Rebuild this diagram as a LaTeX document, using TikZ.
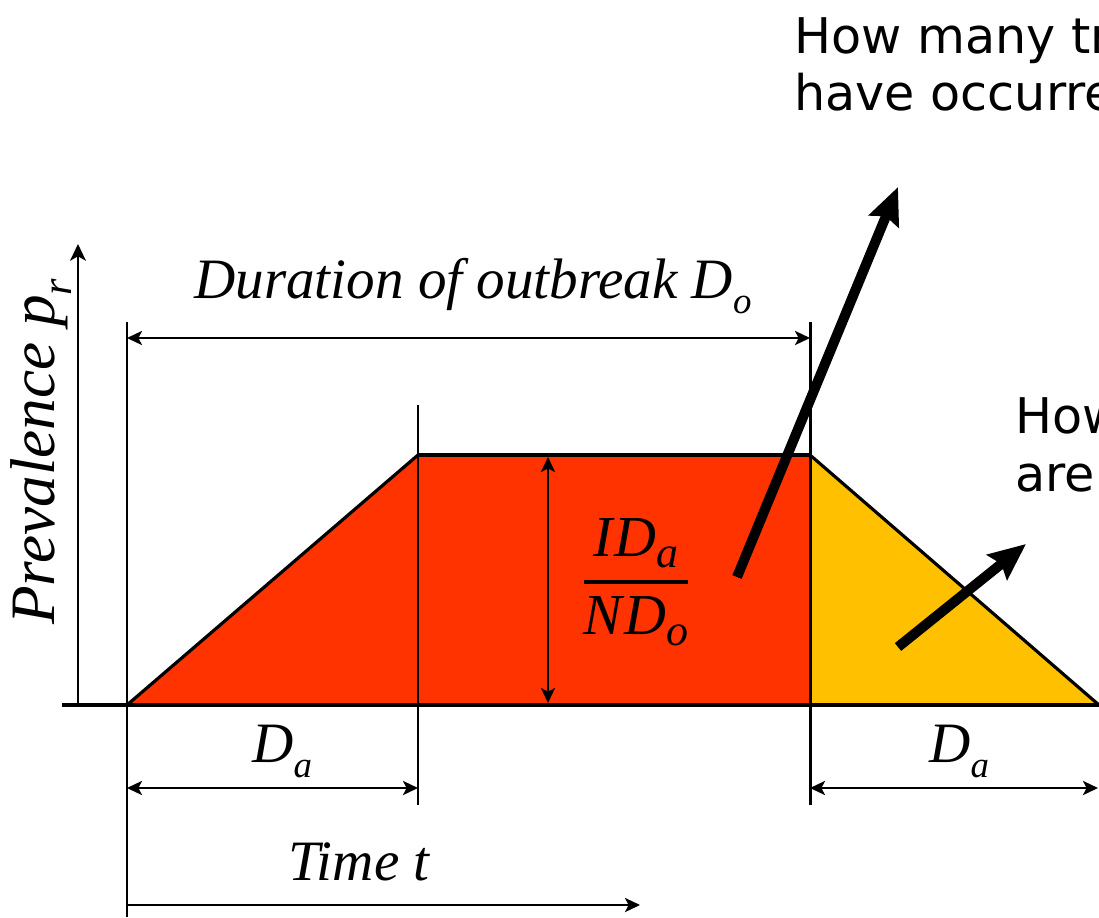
\documentclass[tikz,border=0pt]{standalone}
\usepackage{fontspec}
\setmainfont{Liberation Serif}
\newfontfamily\hsans{DejaVu Sans}
\usetikzlibrary{arrows.meta}
\definecolor{outred}{HTML}{FF3300}
\definecolor{outyellow}{HTML}{FFC000}
\newcommand\tsub[1]{\raisebox{-9pt}{\fontsize{21}{21}\selectfont #1}}
\newcommand\fsub[1]{\raisebox{-6.5pt}{\fontsize{25}{25}\selectfont #1}}
\begin{document}
\begin{tikzpicture}[x=0.02cm,y=-0.02cm,
  serif/.style={font=\fontsize{32.5}{38}\selectfont\itshape, inner sep=0pt},
  sanslabel/.style={font=\hsans\fontsize{28}{32}\selectfont, inner sep=0pt, anchor=base west},
  dimarrow/.style={line width=1.4pt, {Stealth[length=8.5pt,width=8pt,inset=2pt]}-{Stealth[length=8.5pt,width=8pt,inset=2pt]}},
  onearrow/.style={line width=1.4pt, -{Stealth[length=8.5pt,width=8pt,inset=2pt]}},
  guide/.style={line width=1.7pt},
  bigarrow/.style={line width=5.7pt, -{Stealth[length=21pt,width=18pt,inset=3pt]}},
]
\useasboundingbox (0,0) rectangle (1099,917);
\clip (0,0) rectangle (1099,917);

% key points
\coordinate (O) at (127,705);
\coordinate (A) at (418,455);
\coordinate (B) at (810,455);
\coordinate (Bb) at (810,705);
\coordinate (E) at (1099,705);

% fills
\fill[outred] (O) -- (A) -- (B) -- (Bb) -- cycle;
\fill[outyellow] (B) -- (E) -- (Bb) -- cycle;

% outline
\draw[line width=1.8pt] (O) -- (A);
\draw[line width=2.8pt] (A) -- (B);
\draw[line width=1.8pt] (B) -- (E);

% guide lines
\coordinate (g1t) at (127,322); \coordinate (g1b) at (127,917);
\coordinate (g2t) at (418,405); \coordinate (g2b) at (418,805);
\coordinate (g3t) at (810,322); \coordinate (g3b) at (810,805);
\draw[guide] (g1t) -- (g1b);
\draw[guide] (g2t) -- (g2b);
\draw[guide] (g3t) -- (g3b);

% axes
\coordinate (xl) at (62,705); \coordinate (xr) at (1099,705);
\draw[line width=2.8pt] (xl) -- (xr);
\coordinate (yb) at (78,705); \coordinate (yt) at (78,244);
\draw[line width=1.2pt, -{Stealth[length=9.5pt,width=9pt,inset=2.5pt]}] (yb) -- (yt);

% dimension arrows
\coordinate (d1l) at (127,338); \coordinate (d1r) at (810,338);
\draw[dimarrow] (d1l) -- (d1r);
\coordinate (hv1) at (548,457); \coordinate (hv2) at (548,703);
\draw[dimarrow] (hv1) -- (hv2);
\coordinate (da1l) at (127,788); \coordinate (da1r) at (418,788);
\draw[dimarrow] (da1l) -- (da1r);
\coordinate (da2l) at (810,788); \coordinate (da2r) at (1098,788);
\draw[dimarrow] (da2l) -- (da2r);
\coordinate (tl) at (127,905); \coordinate (tr) at (640,905);
\draw[onearrow] (tl) -- (tr);

% labels
\node[serif, anchor=base west] (dur) at (194,298) {Duration of outbreak D\tsub{o}};
\node[serif, anchor=base west] (tim) at (288,880) {Time t};
\node[serif, anchor=base west] (da1) at (252,762) {D\tsub{a}};
\node[serif, anchor=base west] (da2) at (929,762) {D\tsub{a}};
\node[serif, font=\fontsize{36}{40}\selectfont\itshape, anchor=base west, rotate=90] (prev) at (54,625) {Prevalence p\raisebox{-10pt}{\fontsize{24}{24}\selectfont r}};
\node[inner sep=0pt, font=\fontsize{33}{36}\selectfont\itshape] (frac) at (636,582)
  {$\displaystyle{\hbox{I\kern1pt D\fsub{a}}\above 2.3pt \hbox{N\kern1pt D\fsub{o}}}$};

% big arrows
\coordinate (a1s) at (737,577); \coordinate (a1e) at (898,187);
\draw[bigarrow] (a1s) -- (a1e);
\coordinate (a2s) at (898,647); \coordinate (a2e) at (1026,544);
\draw[bigarrow] (a2s) -- (a2e);

% questions
\node[sanslabel] (q1a) at (794,53) {How many tr};
\node[sanslabel] (q1b) at (794,110) {have occurre};
\node[sanslabel] (q2a) at (1015,433) {How};
\node[sanslabel] (q2b) at (1015,491) {are};
\end{tikzpicture}
\end{document}
